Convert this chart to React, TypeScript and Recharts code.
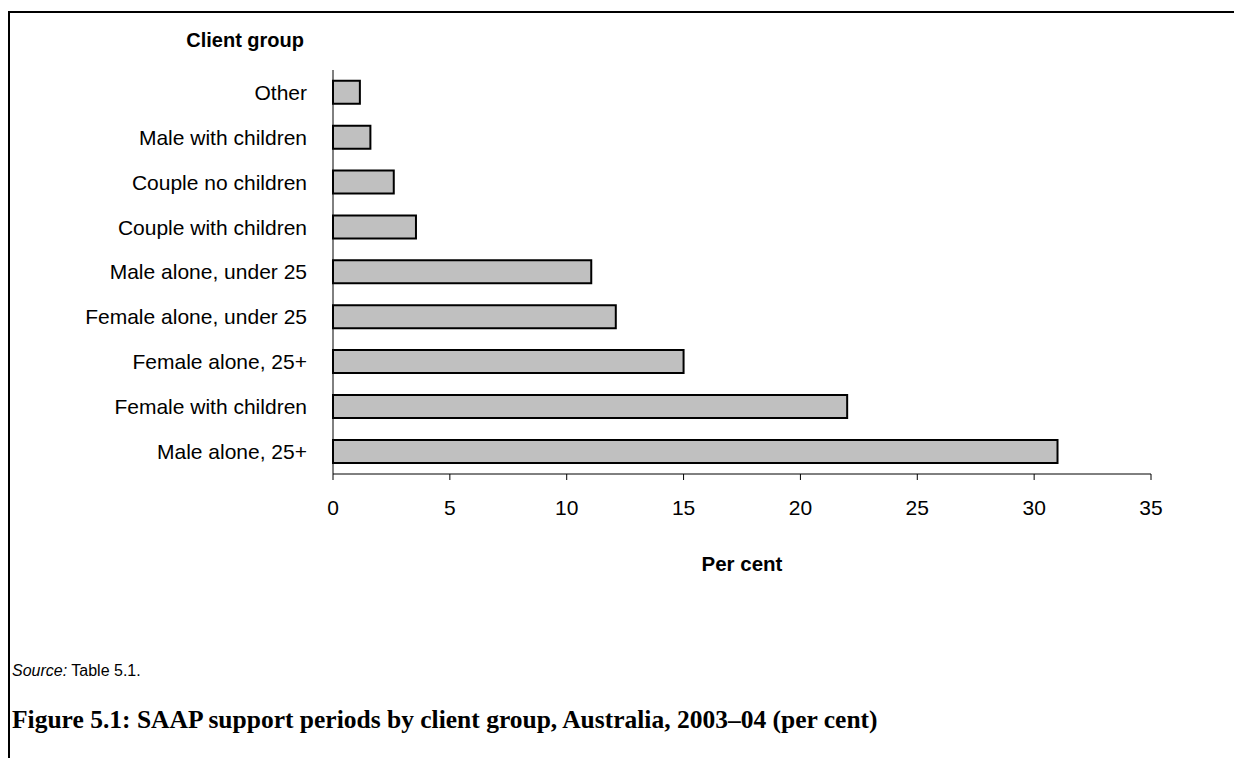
import { Bar, BarChart, XAxis, YAxis } from "recharts";

const groups = [
  "Other",
  "Male with children",
  "Couple no children",
  "Couple with children",
  "Male alone, under 25",
  "Female alone, under 25",
  "Female alone, 25+",
  "Female with children",
  "Male alone, 25+"
];
const percents = [1.15, 1.6, 2.6, 3.55, 11.05, 12.1, 15.0, 22.0, 31.0];
const xTicks = [0, 5, 10, 15, 20, 25, 30, 35];

const data = groups.map((name, i) => ({ name, value: percents[i] }));

const sans = "'Liberation Sans', Arial, sans-serif";

export default function App() {
  return (
    <div
      style={{
        position: "absolute",
        left: 0,
        top: 0,
        width: 1234,
        height: 758,
        background: "#fff",
        overflow: "hidden",
        fontFamily: sans,
        color: "#000"
      }}
    >
      {/* frame: top and left edges only */}
      <div style={{ position: "absolute", left: 8, top: 11, width: 1226, height: 2, background: "#000" }} />
      <div style={{ position: "absolute", left: 8, top: 11, width: 2, height: 747, background: "#000" }} />

      <div
        style={{
          position: "absolute",
          left: 0,
          top: 30,
          width: 304,
          textAlign: "right",
          fontSize: 20,
          lineHeight: "20px",
          fontWeight: "bold"
        }}
      >
        Client group
      </div>

      <div style={{ position: "absolute", left: 0, top: 0 }}>
        <BarChart
          width={1234}
          height={758}
          data={data}
          layout="vertical"
          margin={{ top: 70, right: 83, bottom: 254, left: 0 }}
          barCategoryGap="24%"
        >
          <XAxis
            type="number"
            domain={[0, 35]}
            ticks={xTicks}
            interval={0}
            height={30}
            axisLine={{ stroke: "#000", strokeWidth: 1 }}
            tickLine={{ stroke: "#000", strokeWidth: 1 }}
            tickSize={6}
            tickMargin={20}
            tick={{ fill: "#000", fontSize: 21, fontFamily: sans }}
          />
          <YAxis
            type="category"
            dataKey="name"
            width={333}
            interval={0}
            axisLine={{ stroke: "#000", strokeWidth: 1 }}
            tickLine={false}
            tickSize={0}
            tickMargin={26}
            tick={{ fill: "#000", fontSize: 21, fontFamily: sans }}
          />
          <Bar dataKey="value" fill="#c0c0c0" stroke="#000" strokeWidth={2} isAnimationActive={false} />
        </BarChart>
      </div>

      <div
        style={{
          position: "absolute",
          left: 333,
          top: 554,
          width: 818,
          textAlign: "center",
          fontSize: 20.5,
          lineHeight: "20px",
          fontWeight: "bold"
        }}
      >
        Per cent
      </div>

      <div style={{ position: "absolute", left: 12, top: 662, fontSize: 16, lineHeight: "18px" }}>
        <i>Source:</i> Table 5.1.
      </div>

      <div
        style={{
          position: "absolute",
          left: 12,
          top: 706,
          fontFamily: "'Liberation Serif', 'Times New Roman', serif",
          fontSize: 25.5,
          lineHeight: "28px",
          fontWeight: "bold",
          whiteSpace: "nowrap"
        }}
      >
        Figure 5.1: SAAP support periods by client group, Australia, 2003–04 (per cent)
      </div>
    </div>
  );
}
